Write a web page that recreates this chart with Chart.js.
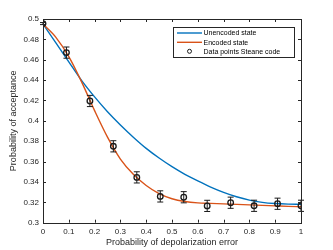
<!DOCTYPE html>
<html><head><meta charset="utf-8">
<script src="https://cdn.jsdelivr.net/npm/chart.js@4/dist/chart.umd.min.js"></script>
<style>html,body{margin:0;padding:0;background:#fff}canvas{display:block}</style>
</head><body>
<canvas id="c" width="333" height="250"></canvas>
<script>
// ---- data ----
const curveX = [0,0.05,0.1,0.15,0.2,0.25,0.3,0.35,0.4,0.45,0.5,0.55,0.6,0.65,0.7,0.75,0.8,0.85,0.9,0.95,1.0];
const unencoded = [0.495,0.4765,0.458,0.4395,0.4235,0.409,0.396,0.384,0.373,0.3635,0.355,0.3475,0.341,0.335,0.3298,0.3255,0.3222,0.3200,0.3188,0.3182,0.318];
const encoded = [0.495,0.482,0.463,0.438,0.41,0.384,0.3625,0.3475,0.3365,0.3285,0.3235,0.3208,0.3195,0.319,0.3185,0.318,0.3175,0.317,0.3165,0.316,0.3157];
const pointX = [0,0.0909,0.1818,0.2727,0.3636,0.4545,0.5455,0.6364,0.7273,0.8182,0.9091,1.0];
const pointY = [0.4955,0.467,0.4195,0.375,0.3445,0.3258,0.325,0.3165,0.3196,0.3166,0.3186,0.3166];
const pointErr = [0.001,0.0055,0.0055,0.0055,0.0055,0.0055,0.0055,0.0055,0.0055,0.0055,0.0055,0.0055];
const seriesNames = ['Unencoded state','Encoded state','Data points Steane code'];
const xTitle = 'Probability of depolarization error';
const yTitle = 'Probability of acceptance';
const xRange = [0,1], xStep = 0.1;
const yRange = [0.3,0.5], yStep = 0.02;

const BLUE = '#0072BD', ORANGE = '#D95319', AX = '#262626';
Chart.defaults.font.family = "'Liberation Sans', Arial, sans-serif";
Chart.defaults.color = AX;

const fmt = v => String(Math.round(v*100)/100);

const boxTicks = {
  id: 'boxTicks',
  afterDatasetsDraw(chart) {
    const {ctx, scales: {x, y}} = chart;
    const ds = chart.data.datasets[2];
    ctx.save();
    ctx.strokeStyle = '#1a1a1a'; ctx.lineWidth = 1;
    ds.data.forEach((p, i) => {
      const px = x.getPixelForValue(p.x);
      const y1 = y.getPixelForValue(p.y - pointErr[i]);
      const y2 = y.getPixelForValue(p.y + pointErr[i]);
      ctx.beginPath();
      ctx.moveTo(px, y1); ctx.lineTo(px, y2);
      ctx.moveTo(px-3, y1); ctx.lineTo(px+3, y1);
      ctx.moveTo(px-3, y2); ctx.lineTo(px+3, y2);
      ctx.stroke();
    });
    ctx.restore();
  },
  afterDraw(chart) {
    const {ctx, chartArea: a, scales: {x, y}} = chart;
    ctx.save();
    ctx.strokeStyle = AX; ctx.lineWidth = 1;
    ctx.strokeRect(Math.round(a.left)+0.5, Math.round(a.top)+0.5, Math.round(a.right-a.left), Math.round(a.bottom-a.top));
    const L = 3;
    ctx.beginPath();
    x.ticks.forEach(t => {
      const px = Math.round(x.getPixelForValue(t.value))+0.5;
      ctx.moveTo(px, a.bottom); ctx.lineTo(px, a.bottom - L);
      ctx.moveTo(px, a.top); ctx.lineTo(px, a.top + L);
    });
    y.ticks.forEach(t => {
      const py = Math.round(y.getPixelForValue(t.value))+0.5;
      ctx.moveTo(a.left, py); ctx.lineTo(a.left + L, py);
      ctx.moveTo(a.right, py); ctx.lineTo(a.right - L, py);
    });
    ctx.stroke();
    // legend
    const lx = 173, ly = 27, lw = 121, lh = 30;
    ctx.fillStyle = '#fff';
    ctx.fillRect(lx, ly, lw, lh);
    ctx.strokeStyle = AX; ctx.lineWidth = 1;
    ctx.strokeRect(lx+0.5, ly+0.5, lw, lh);
    ctx.font = "7px 'Liberation Sans', Arial, sans-serif";
    ctx.textBaseline = 'middle'; ctx.textAlign = 'left'; ctx.fillStyle = '#000';
    const rows = [ly+6, ly+15.3, ly+24.3];
    chart.data.datasets.forEach((d, i) => {
      const ry = rows[i];
      if (i < 2) {
        ctx.strokeStyle = d.borderColor; ctx.lineWidth = 1.4;
        ctx.beginPath(); ctx.moveTo(lx+4, ry); ctx.lineTo(lx+29, ry); ctx.stroke();
      } else {
        ctx.strokeStyle = '#1a1a1a'; ctx.lineWidth = 1;
        ctx.beginPath(); ctx.arc(lx+16.5, ry, 2, 0, Math.PI*2); ctx.stroke();
      }
      ctx.fillText(d.label, lx+30.5, ry+0.5);
    });
    ctx.restore();
  }
};

new Chart(document.getElementById('c'), {
  type: 'scatter',
  data: {
    datasets: [
      { label: seriesNames[0], data: curveX.map((v,i)=>({x:v,y:unencoded[i]})), showLine: true,
        borderColor: BLUE, backgroundColor: BLUE, borderWidth: 1.4, pointRadius: 0, cubicInterpolationMode: 'monotone', order: 2 },
      { label: seriesNames[1], data: curveX.map((v,i)=>({x:v,y:encoded[i]})), showLine: true,
        borderColor: ORANGE, backgroundColor: ORANGE, borderWidth: 1.4, pointRadius: 0, cubicInterpolationMode: 'monotone', order: 1 },
      { label: seriesNames[2], data: pointX.map((v,i)=>({x:v,y:pointY[i]})), showLine: false,
        borderColor: '#1a1a1a', backgroundColor: 'rgba(0,0,0,0)', borderWidth: 1.3, pointRadius: 2.8, order: 0 }
    ]
  },
  options: {
    responsive: false, animation: false,
    layout: { padding: { left: 0, top: 19, right: 32, bottom: 0 } },
    plugins: { legend: { display: false }, tooltip: { enabled: false } },
    scales: {
      x: {
        type: 'linear', min: xRange[0], max: xRange[1],
        ticks: { stepSize: xStep, padding: 4, font: { size: 8 }, color: AX, callback: fmt, maxRotation: 0 },
        grid: { display: false, drawTicks: false }, border: { display: false },
        title: { display: true, text: xTitle, font: { size: 9 }, color: AX, padding: { top: 0, bottom: 2.5 } },
        afterFit(s) { s.height = 27.3; }
      },
      y: {
        type: 'linear', min: yRange[0], max: yRange[1],
        ticks: { stepSize: yStep, padding: 4, font: { size: 8 }, color: AX, callback: fmt },
        grid: { display: false, drawTicks: false }, border: { display: false },
        title: { display: true, text: yTitle, font: { size: 9 }, color: AX, padding: { top: 8.5, bottom: 0 } },
        afterFit(s) { s.width = 43; }
      }
    }
  },
  plugins: [boxTicks]
});
</script>
</body></html>
